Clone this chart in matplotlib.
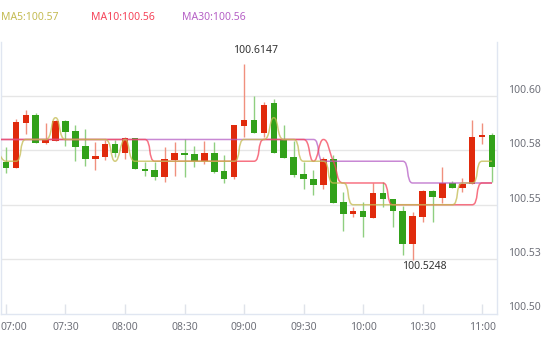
import numpy as np
import pandas as pd
import matplotlib
matplotlib.use('Agg')
from matplotlib import pyplot as plt
from matplotlib.path import Path
from matplotlib.patches import PathPatch
from matplotlib.transforms import ScaledTranslation

# 5 minute bars from 07:00
opens = [100.5697, 100.5670, 100.5877, 100.5913, 100.5785, 100.5794, 100.5884, 100.5838, 100.5770, 100.5712,
         100.5721, 100.5779, 100.5739, 100.5806, 100.5664, 100.5660, 100.5629, 100.5706, 100.5739, 100.5733,
         100.5703, 100.5738, 100.5655, 100.5628, 100.5863, 100.5890, 100.5831, 100.5968, 100.5801, 100.5720,
         100.5641, 100.5617, 100.5592, 100.5712, 100.5511, 100.5456, 100.5470, 100.5440, 100.5554, 100.5525,
         100.5471, 100.5321, 100.5445, 100.5565, 100.5532, 100.5599, 100.5578, 100.5594, 100.5810, 100.5822]
closes = [100.5670, 100.5880, 100.5913, 100.5785, 100.5799, 100.5884, 100.5836, 100.5767, 100.5712, 100.5724,
          100.5779, 100.5739, 100.5806, 100.5666, 100.5657, 100.5629, 100.5710, 100.5738, 100.5730, 100.5703,
          100.5738, 100.5652, 100.5617, 100.5867, 100.5890, 100.5831, 100.5959, 100.5739, 100.5716, 100.5637,
          100.5617, 100.5592, 100.5712, 100.5507, 100.5456, 100.5470, 100.5442, 100.5554, 100.5525, 100.5470,
          100.5321, 100.5448, 100.5563, 100.5534, 100.5600, 100.5578, 100.5595, 100.5811, 100.5822, 100.5675]
highs = [100.5764, 100.5894, 100.5936, 100.5923, 100.5874, 100.5890, 100.5891, 100.5867, 100.5848, 100.5789,
         100.5798, 100.5799, 100.5813, 100.5806, 100.5695, 100.5695, 100.5766, 100.5789, 100.5801, 100.5769,
         100.5793, 100.5789, 100.5727, 100.5867, 100.6147, 100.6000, 100.5972, 100.5985, 100.5865, 100.5793,
         100.5698, 100.5660, 100.5721, 100.5729, 100.5560, 100.5488, 100.5511, 100.5600, 100.5603, 100.5525,
         100.5494, 100.5467, 100.5568, 100.5568, 100.5674, 100.5609, 100.5623, 100.5890, 100.5876, 100.5830]
lows = [100.5645, 100.5668, 100.5827, 100.5785, 100.5781, 100.5794, 100.5771, 100.5701, 100.5680, 100.5661,
        100.5707, 100.5718, 100.5712, 100.5666, 100.5632, 100.5614, 100.5606, 100.5631, 100.5629, 100.5675,
        100.5687, 100.5645, 100.5599, 100.5620, 100.5813, 100.5831, 100.5813, 100.5739, 100.5716, 100.5629,
        100.5574, 100.5545, 100.5571, 100.5507, 100.5379, 100.5445, 100.5350, 100.5440, 100.5491, 100.5399,
        100.5270, 100.5248, 100.5422, 100.5422, 100.5509, 100.5578, 100.5560, 100.5594, 100.5781, 100.5603]

# moving averages as displayed (2 decimals); first value is the bar before 07:00
ma5 = [100.58,
       100.57, 100.57, 100.58, 100.58, 100.58, 100.59, 100.58, 100.58, 100.58, 100.58,
       100.58, 100.57, 100.58, 100.57, 100.57, 100.57, 100.57, 100.57, 100.57, 100.57,
       100.57, 100.57, 100.57, 100.57, 100.58, 100.58, 100.58, 100.59, 100.58, 100.58,
       100.57, 100.57, 100.57, 100.56, 100.56, 100.55, 100.55, 100.55, 100.55, 100.55,
       100.55, 100.55, 100.55, 100.55, 100.55, 100.55, 100.56, 100.56, 100.57, 100.57]
ma10 = [100.58,
        100.58, 100.58, 100.58, 100.58, 100.58, 100.58, 100.58, 100.58, 100.58, 100.58,
        100.58, 100.58, 100.58, 100.58, 100.58, 100.57, 100.57, 100.57, 100.57, 100.57,
        100.57, 100.57, 100.57, 100.57, 100.57, 100.57, 100.58, 100.58, 100.58, 100.58,
        100.58, 100.57, 100.58, 100.57, 100.56, 100.56, 100.56, 100.56, 100.56, 100.55,
        100.55, 100.55, 100.55, 100.55, 100.55, 100.55, 100.55, 100.55, 100.56, 100.56]
ma30 = [100.58,
        100.58, 100.58, 100.58, 100.58, 100.58, 100.58, 100.58, 100.58, 100.58, 100.58,
        100.58, 100.58, 100.58, 100.58, 100.58, 100.58, 100.58, 100.58, 100.58, 100.58,
        100.58, 100.58, 100.58, 100.58, 100.58, 100.58, 100.58, 100.58, 100.58, 100.58,
        100.58, 100.58, 100.57, 100.57, 100.57, 100.57, 100.57, 100.57, 100.57, 100.57,
        100.57, 100.56, 100.56, 100.56, 100.56, 100.56, 100.56, 100.56, 100.56, 100.56]

ytick_vals = [100.50, 100.525, 100.55, 100.575, 100.60]
ytick_labels = ['100.50', '100.53', '100.55', '100.58', '100.60']

UP = '#e02a0c'
DOWN = '#32a11a'
UP_WICK = '#f0907e'
DOWN_WICK = '#8fcf80'
C_MA5 = '#c4bb52'
C_MA10 = '#f5445a'
C_MA30 = '#b660c6'
FONT = 'Noto Sans'


def smooth_line(ax, xs, ys, color, sx=9.92, sy=2175.0, smooth=0.5, **kw):
    # bezier construction like echarts' smooth line, worked out in pixel-ish units
    pts = [(x * sx, y * sy) for x, y in zip(xs, ys)]
    verts = [pts[0]]
    codes = [Path.MOVETO]
    cp0 = pts[0]
    n = len(pts)
    for i in range(1, n):
        x, y = pts[i]
        px, py = pts[i - 1]
        if i == n - 1:
            cp1 = (x, y)
            nxt = None
        else:
            nx, ny = pts[i + 1]
            vx, vy = nx - px, ny - py
            lp = np.hypot(x - px, y - py)
            ln = np.hypot(nx - x, ny - y)
            r = ln / (ln + lp)
            ncx = min(max(x + vx * smooth * r, min(nx, x)), max(nx, x))
            ncy = min(max(y + vy * smooth * r, min(ny, y)), max(ny, y))
            c1x = min(max(x - (ncx - x) * lp / ln, min(px, x)), max(px, x))
            c1y = min(max(y - (ncy - y) * lp / ln, min(py, y)), max(py, y))
            cp1 = (c1x, c1y)
            nxt = (x + (x - c1x) * ln / lp, y + (y - c1y) * ln / lp)
        verts += [cp0, cp1, (x, y)]
        codes += [Path.CURVE4] * 3
        cp0 = nxt
    verts = [(a / sx, b / sy) for a, b in verts]
    ax.add_patch(PathPatch(Path(verts, codes), fill=False, edgecolor=color, **kw))


o = np.array(opens)
c = np.array(closes)
h = np.array(highs)
l = np.array(lows)
x = np.arange(len(c))
up = c > o
times = pd.date_range('2020-01-01 07:00', periods=len(c), freq='5min').strftime('%H:%M')

fig = plt.figure(figsize=(5.5, 3.42), dpi=100)
ax = fig.add_axes([1 / 550, 28.5 / 342, 496 / 550, 271.9 / 342])

ax.vlines(x, l, h, colors=np.where(up, UP_WICK, DOWN_WICK), lw=1, zorder=2)
ax.bar(x, c - o, bottom=o, width=0.66, color=np.where(up, UP, DOWN), lw=0, zorder=3)

xm = np.arange(-1, len(c))
smooth_line(ax, xm, ma30, C_MA30, lw=1.1, alpha=0.75, zorder=4)
smooth_line(ax, xm, ma10, C_MA10, lw=1.1, alpha=0.75, zorder=5)
smooth_line(ax, xm, ma5, C_MA5, lw=1.1, alpha=0.75, zorder=6)

ax.set_xlim(-0.5, len(c) - 0.5)
ax.set_ylim(100.50, 100.625)

for v in ytick_vals[1:]:
    ax.axhline(v, color='#e6e6e6', lw=1, zorder=0)

ax.yaxis.tick_right()
ax.set_yticks(ytick_vals)
ax.set_yticklabels(ytick_labels)
ax.tick_params(axis='y', length=0, pad=8, labelsize=7.5, labelcolor='#6e7079')
plt.setp(ax.get_yticklabels(), va='bottom', family=FONT)

tick_idx = [i for i, t in enumerate(times) if t.endswith(':00') or t.endswith(':30')]
ax.set_xticks(tick_idx)
ax.set_xticklabels([times[i] for i in tick_idx])
ax.tick_params(axis='x', direction='in', length=7, width=1, color='#dfe3ea',
               pad=6, labelsize=7.5, labelcolor='#6e7079')
plt.setp(ax.get_xticklabels(), family=FONT)
first = ax.get_xticklabels()[0]
first.set_horizontalalignment('left')
first.set_transform(first.get_transform() + ScaledTranslation(-0.05, 0, fig.dpi_scale_trans))

ax.spines['top'].set_visible(False)
for s in ['left', 'right', 'bottom']:
    ax.spines[s].set_color('#e0e6f1')
    ax.spines[s].set_linewidth(1)

# high / low labels
ih = int(np.argmax(h))
il = int(np.argmin(l))
ax.annotate('%.4f' % h[ih], (ih, h[ih]), xytext=(8.6, 5.5), textcoords='offset points',
            ha='center', va='bottom', fontsize=7.5, color='#333333', family=FONT)
ax.annotate('%.4f' % l[il], (il, l[il]), xytext=(8.6, -1), textcoords='offset points',
            ha='center', va='top', fontsize=7.5, color='#333333', family=FONT)

# legend row on top
fig.text(1 / 550, 1 - 17 / 342, 'MA5:%.2f' % ma5[-1], color=C_MA5, fontsize=7.5, va='center', family=FONT)
fig.text(91 / 550, 1 - 17 / 342, 'MA10:%.2f' % ma10[-1], color=C_MA10, fontsize=7.5, va='center', family=FONT)
fig.text(182 / 550, 1 - 17 / 342, 'MA30:%.2f' % ma30[-1], color=C_MA30, fontsize=7.5, va='center', family=FONT)

fig.savefig('out.png', dpi=100)
